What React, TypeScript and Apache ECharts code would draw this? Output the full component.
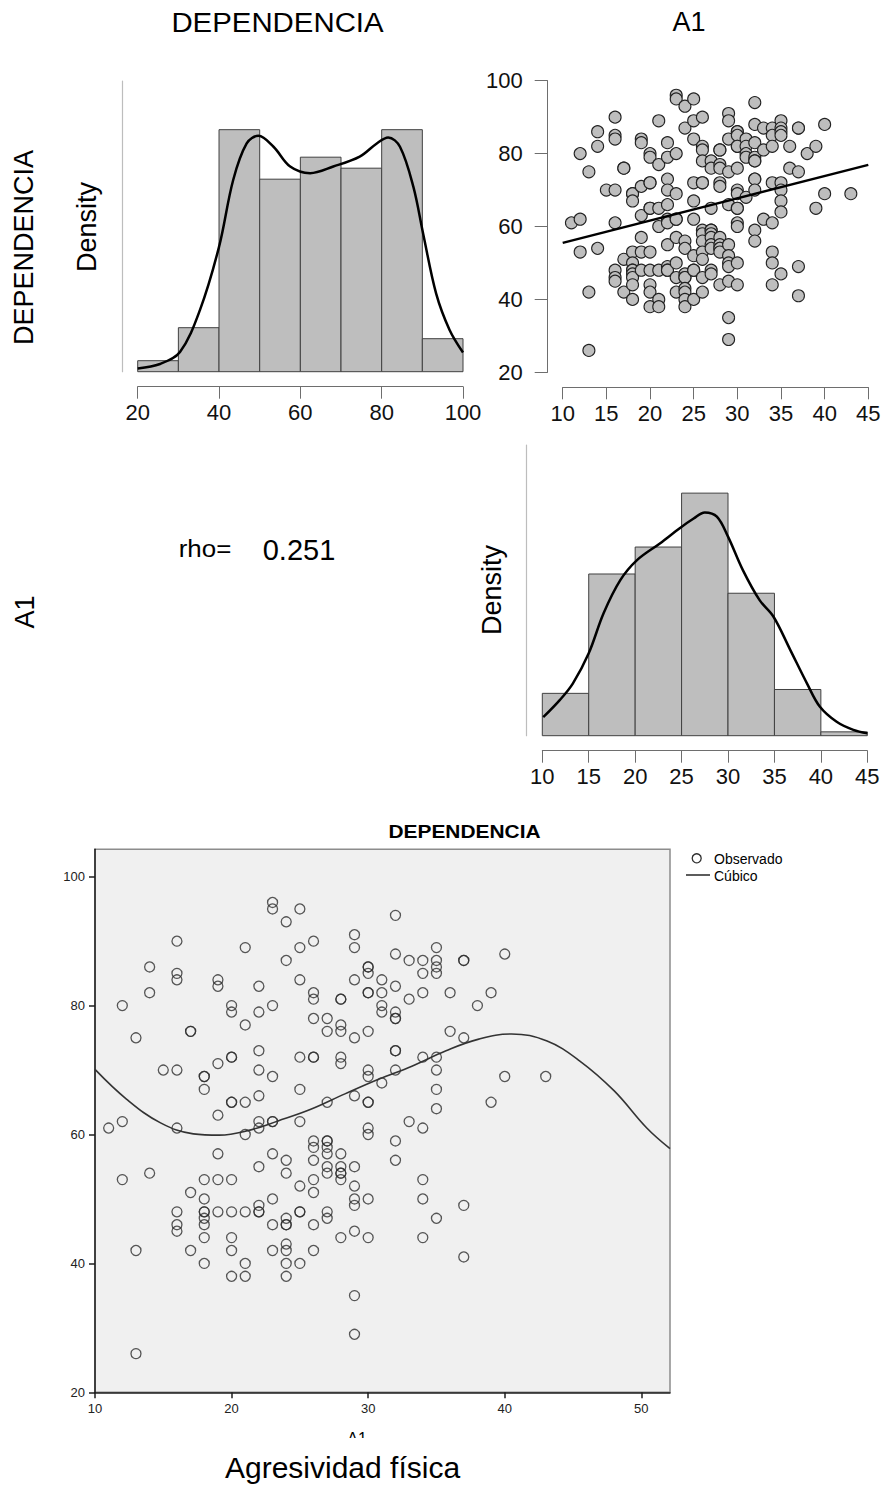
import React, { useEffect, useRef } from "react";
import * as echarts from "echarts";

const FONT = "'Liberation Sans', Arial, Helvetica, sans-serif";

// Histogram of DEPENDENCIA: bin edges and counts
const depBinEdges = [20, 30, 40, 50, 60, 70, 80, 90, 100];
const depCounts = [2, 8, 44, 35, 39, 37, 44, 6];
// Kernel density of DEPENDENCIA, on the count scale of the histogram
const depDensity: [number, number][] = [
  [20, 0.6], [25.5, 1.4], [30.4, 3.6], [35.3, 11.2], [40, 22.7], [43.5, 34.9],
  [46.8, 41.5], [49.7, 42.9], [53.4, 40.9], [57.5, 37.3], [62.4, 36.1], [68.1, 37.3],
  [74.6, 39.1], [78.8, 41.5], [81.6, 42.6], [84.5, 40.9], [87.8, 33.6], [90.2, 25.1],
  [93.4, 14.2], [96.7, 7.6], [100, 3.5],
];

// Histogram of A1 (Agresividad física)
const a1BinEdges = [10, 15, 20, 25, 30, 35, 40, 45];
const a1Counts = [11, 42, 49, 63, 37, 12, 1];
const a1Density: [number, number][] = [
  [10.1, 4.8], [11.9, 9.3], [13.3, 13.6], [15, 21.4], [16.6, 31.8], [18.4, 40.4],
  [20.2, 45.6], [22.7, 50], [24.8, 53.9], [26.3, 56.4], [27.5, 58], [28.8, 56.9],
  [30, 51.7], [31.6, 43], [33.4, 35.2], [34.9, 30.9], [36.7, 22.3], [38.5, 13.6],
  [39.9, 7.5], [41.7, 3.6], [43.5, 1.5], [45, 0.6],
];

// Observations: A1 score -> DEPENDENCIA scores
const dependenciaByA1: [number, number[]][] = [
  [11, [61]],
  [12, [62, 80, 53]],
  [13, [75, 42, 26]],
  [14, [86, 82, 54]],
  [15, [70]],
  [16, [70, 90, 85, 84, 61, 48, 46, 45]],
  [17, [76, 76, 51, 42]],
  [18, [69, 69, 67, 53, 50, 48, 48, 47, 46, 44, 40]],
  [19, [84, 83, 71, 63, 57, 53, 48]],
  [20, [80, 79, 72, 72, 65, 65, 53, 48, 44, 42, 38]],
  [21, [89, 77, 65, 60, 48, 40, 38]],
  [22, [83, 79, 73, 70, 66, 62, 61, 55, 49, 48, 48]],
  [23, [96, 95, 80, 69, 62, 62, 57, 50, 46, 42]],
  [24, [93, 87, 56, 54, 47, 46, 46, 43, 42, 40, 38]],
  [25, [95, 89, 84, 72, 67, 62, 52, 48, 48, 40]],
  [26, [90, 82, 81, 78, 72, 72, 59, 58, 56, 53, 51, 46, 42]],
  [27, [78, 76, 65, 59, 59, 58, 57, 55, 54, 48, 47]],
  [28, [81, 81, 77, 76, 72, 71, 57, 55, 54, 54, 53, 44]],
  [29, [91, 89, 84, 75, 66, 55, 52, 50, 49, 45, 35, 29]],
  [30, [86, 86, 85, 82, 82, 76, 70, 69, 65, 65, 61, 60, 50, 44]],
  [31, [84, 82, 80, 79, 68]],
  [32, [94, 88, 83, 79, 78, 78, 73, 73, 70, 59, 56]],
  [33, [87, 81, 62]],
  [34, [87, 85, 82, 72, 61, 53, 50, 44]],
  [35, [89, 87, 86, 85, 72, 70, 67, 64, 47]],
  [36, [82, 76]],
  [37, [87, 87, 75, 49, 41]],
  [38, [80]],
  [39, [82, 65]],
  [40, [88, 69]],
  [43, [69]],
];

// Linear fit (upper panel) and cubic fit (SPSS panel)
const linearFit: [number, number][] = [[10, 55.5], [45, 76.9]];
const cubicFit: [number, number][] = [
  [10, 70.1], [12.3, 65.5], [14.8, 61.8], [17.2, 60.1], [19.1, 59.9], [21.2, 60.6],
  [23.4, 62.1], [25.8, 63.9], [28.3, 66.3], [30.8, 68.6], [33.2, 70.6], [35.7, 73],
  [38.1, 74.8], [40.5, 75.6], [43.1, 74.5], [45.5, 71.4], [48, 66.8], [50.4, 61],
  [52.1, 57.8],
];

const rhoValue = "0.251";
const spssXTicks = [10, 20, 30, 40, 50];
const spssYTicks = [20, 40, 60, 80, 100];

const observations: [number, number][] = dependenciaByA1.flatMap(([a1, deps]) =>
  deps.map((d) => [a1, d] as [number, number])
);

const binRows = (edges: number[], counts: number[]) =>
  counts.map((c, i) => [edges[i], edges[i + 1], c]);

const histRender = (_params: any, api: any) => {
  const p0 = api.coord([api.value(0), api.value(2)]);
  const p1 = api.coord([api.value(1), 0]);
  return {
    type: "rect",
    shape: { x: p0[0], y: p0[1], width: p1[0] - p0[0], height: p1[1] - p0[1] },
    style: { fill: "#bebebe", stroke: "#404040", lineWidth: 1 },
  };
};

const rXAxis = (gridIndex: number, min: number, max: number, interval: number) => ({
  type: "value",
  gridIndex,
  min,
  max,
  interval,
  position: "bottom",
  offset: 15,
  axisLine: { show: true, onZero: false, lineStyle: { color: "#6e6e6e", width: 1 } },
  axisTick: { show: true, length: 12, lineStyle: { color: "#6e6e6e", width: 1 } },
  axisLabel: { fontSize: 22, color: "#111", margin: 15, fontFamily: FONT },
  splitLine: { show: false },
});

const densityYAxis = (gridIndex: number, max: number, offset: number) => ({
  type: "value",
  gridIndex,
  min: 0,
  max,
  position: "left",
  offset,
  axisLine: { show: true, onZero: false, lineStyle: { color: "#bdbdbd", width: 1.2 } },
  axisTick: { show: false },
  axisLabel: { show: false },
  splitLine: { show: false },
});

const txt = (
  x: number,
  y: number,
  text: string,
  fontSize: number,
  extra: { rot?: number; bold?: boolean; align?: string; va?: string; z?: number; sx?: number } = {}
) => ({
  type: "text",
  x,
  y,
  rotation: extra.rot || 0,
  scaleX: extra.sx || 1,
  z: extra.z || 100,
  style: {
    text,
    fontSize,
    fontFamily: FONT,
    fontWeight: extra.bold ? "bold" : "normal",
    fill: "#000",
    align: extra.align || "center",
    verticalAlign: extra.va || "middle",
  },
});

const curve = (xi: number, data: [number, number][], color: string, width: number, smooth: number) => ({
  type: "line",
  xAxisIndex: xi,
  yAxisIndex: xi,
  data,
  smooth,
  showSymbol: false,
  lineStyle: { color, width },
  z: 3,
});

const option: any = {
  animation: false,
  backgroundColor: "#ffffff",
  grid: [
    { left: 137.7, top: 81, width: 325.3, height: 290.7 },
    { left: 562.7, top: 80.7, width: 305.6, height: 291.6 },
    { left: 542.3, top: 445, width: 325, height: 290.7 },
    {
      left: 95,
      top: 849.3,
      width: 575,
      height: 543,
      show: true,
      backgroundColor: "#f0f0f0",
      borderColor: "#8c8c8c",
      borderWidth: 1.5,
    },
  ],
  xAxis: [
    rXAxis(0, 20, 100, 20),
    rXAxis(1, 10, 45, 5),
    rXAxis(2, 10, 45, 5),
    {
      type: "value",
      gridIndex: 3,
      min: 10,
      max: 52.1,
      position: "bottom",
      axisLine: { show: true, onZero: false, lineStyle: { color: "#1e1e1e", width: 1.5 } },
      axisTick: { show: true, length: 6, customValues: spssXTicks, lineStyle: { color: "#1e1e1e", width: 1.5 } },
      axisLabel: { fontSize: 13, color: "#222", margin: 10, fontFamily: FONT, customValues: spssXTicks },
      splitLine: { show: false },
    },
  ],
  yAxis: [
    densityYAxis(0, 52.85, 15.7),
    {
      type: "value",
      gridIndex: 1,
      min: 20,
      max: 100,
      interval: 20,
      position: "left",
      offset: 15,
      axisLine: { show: true, onZero: false, lineStyle: { color: "#6e6e6e", width: 1 } },
      axisTick: { show: true, length: 13, lineStyle: { color: "#6e6e6e", width: 1 } },
      axisLabel: { fontSize: 22, color: "#111", margin: 25, fontFamily: FONT },
      splitLine: { show: false },
    },
    densityYAxis(2, 75.5, 16.3),
    {
      type: "value",
      gridIndex: 3,
      min: 20,
      max: 104.25,
      position: "left",
      axisLine: { show: true, onZero: false, lineStyle: { color: "#1e1e1e", width: 1.5 } },
      axisTick: { show: true, length: 6, customValues: spssYTicks, lineStyle: { color: "#1e1e1e", width: 1.5 } },
      axisLabel: { fontSize: 13, color: "#222", margin: 10, fontFamily: FONT, customValues: spssYTicks },
      splitLine: { show: false },
    },
  ],
  series: [
    {
      name: "hist-dep",
      type: "custom",
      xAxisIndex: 0,
      yAxisIndex: 0,
      renderItem: histRender,
      encode: { x: [0, 1], y: 2 },
      data: binRows(depBinEdges, depCounts),
      z: 2,
    },
    { name: "dens-dep", ...curve(0, depDensity, "#000", 2.5, 0.35) },
    {
      name: "scatter-top",
      type: "scatter",
      xAxisIndex: 1,
      yAxisIndex: 1,
      data: observations,
      symbol: "circle",
      symbolSize: 12,
      itemStyle: { color: "#bebebe", borderColor: "#222", borderWidth: 1.1, opacity: 1 },
      z: 2,
    },
    { name: "lm-top", ...curve(1, linearFit, "#000", 2.5, 0) },
    {
      name: "hist-a1",
      type: "custom",
      xAxisIndex: 2,
      yAxisIndex: 2,
      renderItem: histRender,
      encode: { x: [0, 1], y: 2 },
      data: binRows(a1BinEdges, a1Counts),
      z: 2,
    },
    { name: "dens-a1", ...curve(2, a1Density, "#000", 2.5, 0.35) },
    {
      name: "Observado",
      type: "scatter",
      xAxisIndex: 3,
      yAxisIndex: 3,
      data: observations,
      symbol: "circle",
      symbolSize: 10,
      itemStyle: { color: "rgba(0,0,0,0)", borderColor: "#2e2e2e", borderWidth: 1.3 },
      z: 2,
    },
    { name: "Cúbico", ...curve(3, cubicFit, "#333", 1.6, 0.4) },
  ],
  graphic: [
    txt(277.5, 22, "DEPENDENCIA", 28, { sx: 1.05 }),
    txt(689, 22, "A1", 27),
    txt(24, 247.5, "DEPENDENCIA", 27, { rot: Math.PI / 2 }),
    txt(25, 612, "A1", 27, { rot: Math.PI / 2 }),
    txt(87, 227, "Density", 27, { rot: Math.PI / 2 }),
    txt(492, 590, "Density", 27, { rot: Math.PI / 2 }),
    txt(205, 548, "rho=", 24, { sx: 1.08 }),
    txt(299, 550, rhoValue, 29),
    txt(464.5, 831, "DEPENDENCIA", 19, { bold: true, sx: 1.1 }),
    {
      type: "circle",
      shape: { cx: 696.7, cy: 858.3, r: 4.5 },
      style: { fill: "none", stroke: "#2e2e2e", lineWidth: 1.3 },
      z: 100,
    },
    txt(714, 859, "Observado", 14, { align: "left" }),
    {
      type: "line",
      shape: { x1: 686, y1: 875, x2: 710, y2: 875 },
      style: { stroke: "#333", lineWidth: 1.6 },
      z: 100,
    },
    txt(714, 876, "Cúbico", 14, { align: "left" }),
    txt(357, 1430, "A1", 16, { va: "top" }),
    {
      type: "rect",
      shape: { x: 320, y: 1438, width: 80, height: 16 },
      style: { fill: "#ffffff" },
      z: 101,
    },
    txt(342.5, 1467, "Agresividad física", 30, { z: 102 }),
  ],
};

export default function App() {
  const ref = useRef<HTMLDivElement>(null);
  useEffect(() => {
    if (!ref.current) return;
    const chart = echarts.init(ref.current, null, { renderer: "svg" });
    chart.setOption(option);
    return () => chart.dispose();
  }, []);
  return (
    <div
      ref={ref}
      style={{ position: "absolute", left: 0, top: 0, width: 888, height: 1488, background: "#fff" }}
    />
  );
}
